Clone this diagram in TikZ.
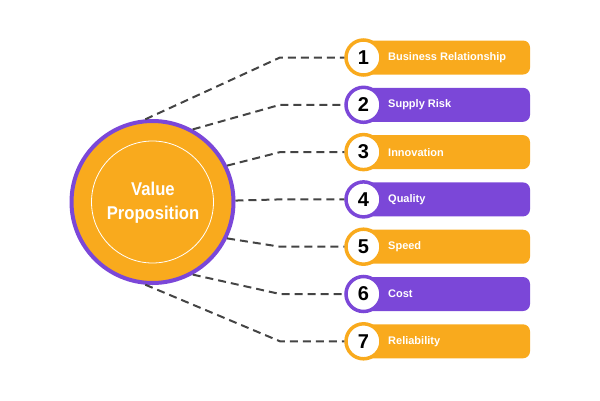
\documentclass[tikz,border=0pt]{standalone}
\usepackage{fontspec}
\setmainfont{Liberation Sans}
\definecolor{vorange}{HTML}{F9AA1D}
\definecolor{vpurple}{HTML}{7B47D8}
\definecolor{dashgray}{HTML}{444444}
\begin{document}
\begin{tikzpicture}[x=1pt,y=-1pt,
  barbox/.style={rectangle, rounded corners=7pt, minimum width=170pt, minimum height=34pt, inner sep=0pt},
  numcirc/.style={circle, fill=white, line width=3.5pt, minimum size=35pt, inner sep=0pt, text=black, font=\bfseries\fontsize{20}{20}\selectfont},
  itemtext/.style={anchor=west, text=white, font=\bfseries\fontsize{11}{12}\selectfont, inner sep=0pt},
  conn/.style={draw=dashgray, line width=2pt, dash pattern=on 8pt off 5pt}]
\useasboundingbox (0,0) rectangle (600,400);
\node[circle, fill=vorange, draw=vpurple, line width=4pt, minimum size=162pt] (vp) at (152.5,202) {};
\node[circle, draw=white, line width=0.8pt, minimum size=122pt] (vpin) at (vp.center) {};
\node[text=white, font=\bfseries\fontsize{18.5}{24}\selectfont, align=center, xscale=0.9, transform shape] (vptext) at (153,203) {Value\\Proposition};
\foreach \i/\txt/\col/\ang in {1/Business Relationship/vorange/95, 2/Supply Risk/vpurple/61, 3/Innovation/vorange/26, 4/Quality/vpurple/1.5, 5/Speed/vorange/-26, 6/Cost/vpurple/-61, 7/Reliability/vorange/-95} {
  \pgfmathsetmacro\yy{57.5+(\i-1)*47.3}
  \node[barbox, fill=\col] (bar\i) at (445,\yy) {};
  \node[numcirc, draw=\col] (num\i) at (363.5,\yy) {\i};
  \node[itemtext] (lab\i) at (388,\yy) {\txt};
  \coordinate (bend\i) at (280,\yy);
  \draw[conn] (vp.\ang) -- (bend\i) -- (num\i.west);
}
\end{tikzpicture}
\end{document}
